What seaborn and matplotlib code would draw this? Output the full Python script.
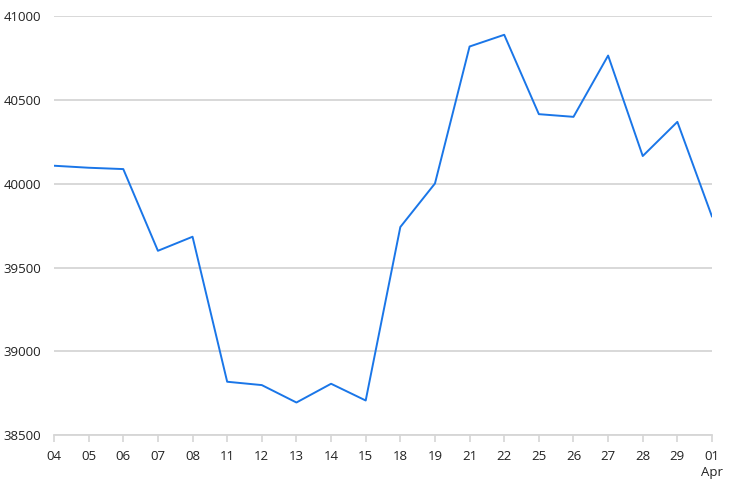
import pandas as pd
import matplotlib
matplotlib.use("Agg")
import matplotlib.pyplot as plt
import seaborn as sns

# days along the x axis and the values
days = ["04", "05", "06", "07", "08", "11", "12", "13", "14", "15",
        "18", "19", "21", "22", "25", "26", "27", "28", "29", "01\nApr"]
values = [40108, 40096, 40088, 39600, 39684, 38818, 38798, 38694, 38806, 38706,
          39742, 40002, 40820, 40890, 40416, 40400, 40766, 40166, 40370, 39804]
y_ticks = [38500, 39000, 39500, 40000, 40500, 41000]


def main():
    sns.set_style("white")
    plt.rcParams['font.family'] = ['Open Sans', 'DejaVu Sans']

    df = pd.DataFrame({"day": days, "value": values})
    df["pos"] = range(len(df))

    fig = plt.figure(figsize=(7.36, 4.96), dpi=100)
    ax = fig.add_axes([0.0734, 0.123, 0.894, 0.844])

    for t in y_ticks:
        ax.axhline(t, color="#d6d6d6", lw=1.3, zorder=0)

    sns.lineplot(data=df, x="pos", y="value", sort=False, color="#1a76e8",
                 lw=1.4, ax=ax, zorder=3)

    ax.set_xlim(0, len(days) - 1)
    ax.set_ylim(y_ticks[0], y_ticks[-1])
    ax.set_xticks(df["pos"])
    ax.set_xticklabels(days, va="top", ha="center", linespacing=1.25)
    ax.set_yticks(y_ticks)
    ax.set_xlabel("")
    ax.set_ylabel("")

    for s in ["top", "right", "left"]:
        ax.spines[s].set_visible(False)
    ax.spines["bottom"].set_color("#d6d6d6")
    ax.spines["bottom"].set_linewidth(1.3)
    ax.spines["bottom"].set_zorder(1)

    ax.tick_params(axis="x", bottom=True, length=5, width=1.2, color="#d6d6d6",
                   labelsize=9.5, labelcolor="#222222", pad=6)
    ax.tick_params(axis="y", left=False, labelsize=9.5, labelcolor="#222222", pad=6)

    fig.savefig("out.png", dpi=100)


main()
